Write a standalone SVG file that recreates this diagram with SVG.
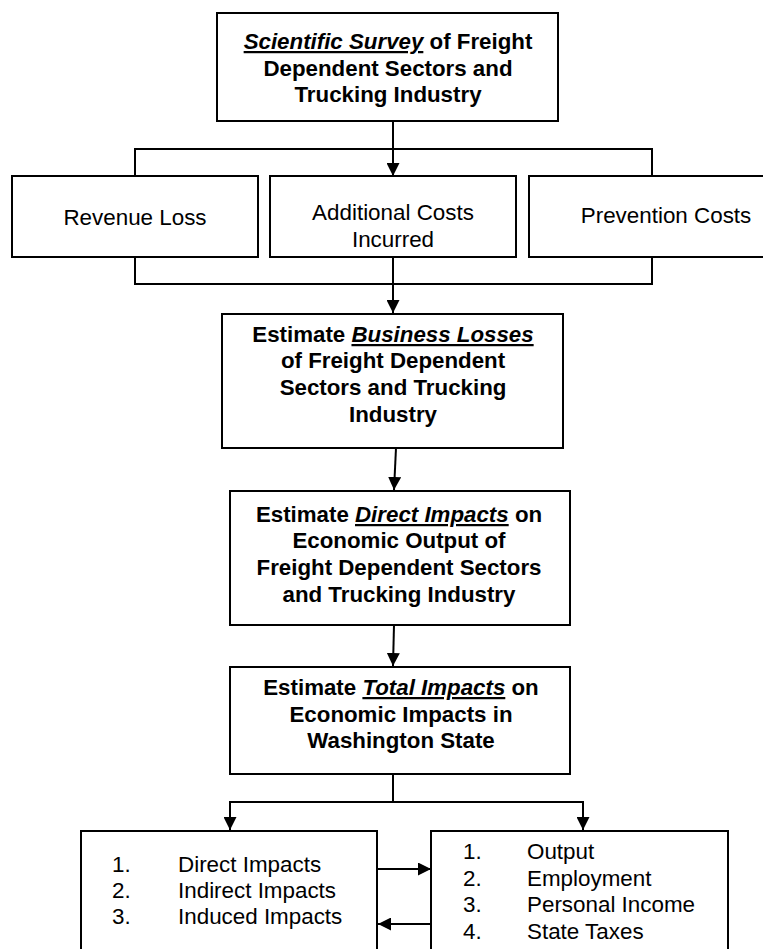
<svg xmlns="http://www.w3.org/2000/svg" width="763" height="949" viewBox="0 0 763 949">
<style>
.box{fill:#fff;stroke:#000;stroke-width:2}
.con{fill:none;stroke:#000;stroke-width:2}
.b{font-family:"Liberation Sans",Arial,sans-serif;font-weight:bold;font-size:22.3px;text-anchor:middle;fill:#000}
.r{font-family:"Liberation Sans",Arial,sans-serif;font-size:22.4px;fill:#000}
.c{text-anchor:middle}
.em{font-style:italic;text-decoration:underline}
</style>
<defs>
<marker id="ah" viewBox="0 0 12 12" refX="12" refY="6" markerWidth="13" markerHeight="13" markerUnits="userSpaceOnUse" orient="auto">
<path d="M0,0 L12,6 L0,12 Z" fill="#000"/>
</marker>
</defs>
<g id="connectors">
<path class="con" d="M393,121 V176" marker-end="url(#ah)"/>
<path class="con" d="M135,176 V149 H652 V176"/>
<path class="con" d="M135,257 V284 H652 V257"/>
<path class="con" d="M393,257 V313" marker-end="url(#ah)"/>
<path class="con" d="M396,448 L394,490" marker-end="url(#ah)"/>
<path class="con" d="M394,625 L393,666" marker-end="url(#ah)"/>
<path class="con" d="M393,774 V802 H230 V830" marker-end="url(#ah)"/>
<path class="con" d="M393,802 H583 V830" marker-end="url(#ah)"/>
<path class="con" d="M377,869 H431" marker-end="url(#ah)"/>
<path class="con" d="M434,924 H378" marker-end="url(#ah)"/>
</g>
<g id="survey">
<rect class="box" x="217" y="13" width="341" height="108"/>
<text class="b" x="388" y="49"><tspan class="em">Scientific Survey</tspan> of Freight</text>
<text class="b" x="388" y="76">Dependent Sectors and</text>
<text class="b" x="388" y="102">Trucking Industry</text>
</g>
<g id="revenue">
<rect class="box" x="12" y="176" width="246" height="81"/>
<text class="r c" x="135" y="225">Revenue Loss</text>
</g>
<g id="additional">
<rect class="box" x="270" y="176" width="246" height="81"/>
<text class="r c" x="393" y="220">Additional Costs</text>
<text class="r c" x="393" y="247">Incurred</text>
</g>
<g id="prevention">
<rect class="box" x="529" y="176" width="280" height="81"/>
<text class="r c" x="666" y="223">Prevention Costs</text>
</g>
<g id="business">
<rect class="box" x="222" y="314" width="341" height="134"/>
<text class="b" x="393" y="342">Estimate <tspan class="em">Business Losses</tspan></text>
<text class="b" x="393" y="368">of Freight Dependent</text>
<text class="b" x="393" y="395">Sectors and Trucking</text>
<text class="b" x="393" y="422">Industry</text>
</g>
<g id="direct">
<rect class="box" x="230" y="491" width="340" height="134"/>
<text class="b" x="399" y="522">Estimate <tspan class="em">Direct Impacts</tspan> on</text>
<text class="b" x="399" y="548">Economic Output of</text>
<text class="b" x="399" y="575">Freight Dependent Sectors</text>
<text class="b" x="399" y="602">and Trucking Industry</text>
</g>
<g id="total">
<rect class="box" x="230" y="667" width="340" height="107"/>
<text class="b" x="401" y="695">Estimate <tspan class="em">Total Impacts</tspan> on</text>
<text class="b" x="401" y="722">Economic Impacts in</text>
<text class="b" x="401" y="748">Washington State</text>
</g>
<g id="impacts">
<rect class="box" x="81" y="831" width="296" height="140"/>
<text class="r" x="112" y="872">1.</text><text class="r" x="178" y="872">Direct Impacts</text>
<text class="r" x="112" y="898">2.</text><text class="r" x="178" y="898">Indirect Impacts</text>
<text class="r" x="112" y="924">3.</text><text class="r" x="178" y="924">Induced Impacts</text>
</g>
<g id="measures">
<rect class="box" x="431" y="831" width="297" height="140"/>
<text class="r" x="463" y="859">1.</text><text class="r" x="527" y="859">Output</text>
<text class="r" x="463" y="886">2.</text><text class="r" x="527" y="886">Employment</text>
<text class="r" x="463" y="912">3.</text><text class="r" x="527" y="912">Personal Income</text>
<text class="r" x="463" y="939">4.</text><text class="r" x="527" y="939">State Taxes</text>
</g>
</svg>
